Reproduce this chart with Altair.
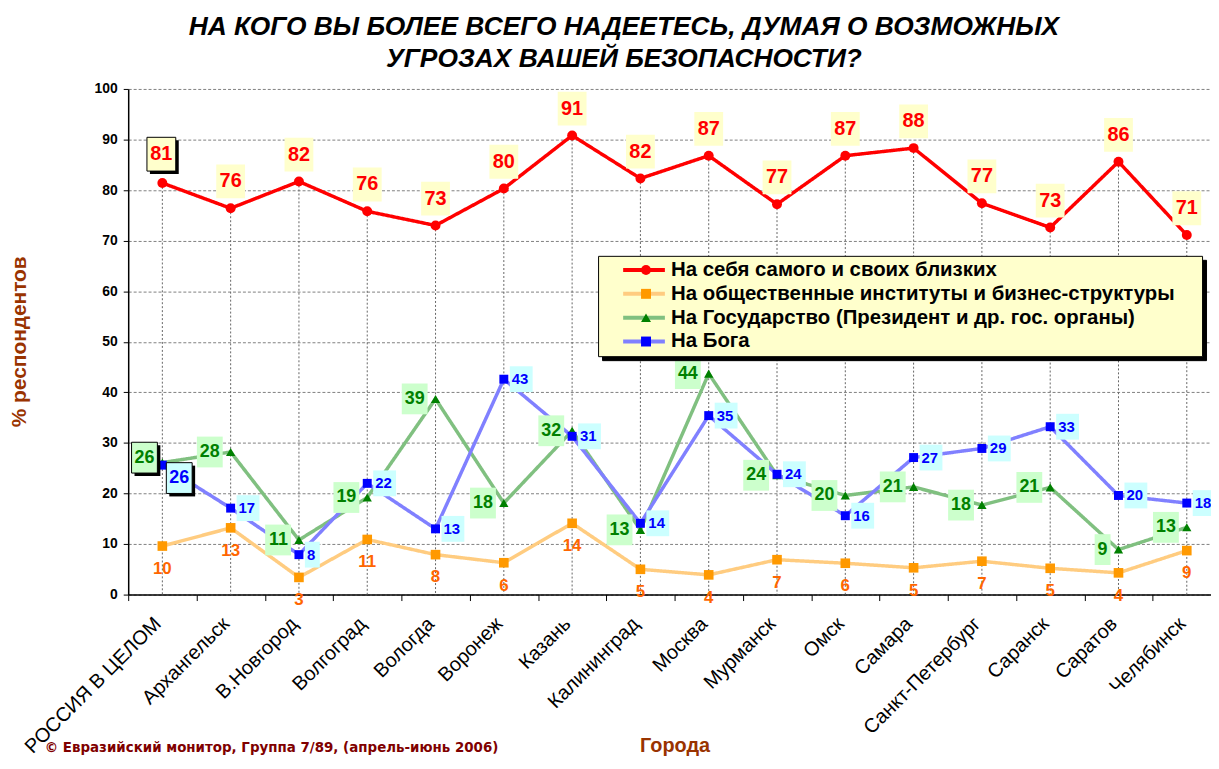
import altair as alt
import pandas as pd

# ---------------- data ----------------
cities = ["РОССИЯ В ЦЕЛОМ", "Архангельск", "В.Новгород", "Волгоград", "Вологда",
          "Воронеж", "Казань", "Калининград", "Москва", "Мурманск", "Омск",
          "Самара", "Санкт-Петербург", "Саранск", "Саратов", "Челябинск"]

s_self = [81.4, 76.4, 81.7, 75.8, 73.0, 80.3, 90.8, 82.3, 86.8, 77.2, 86.8, 88.3, 77.4, 72.6, 85.6, 71.1]
s_public = [9.6, 13.2, 3.4, 10.9, 7.9, 6.3, 14.1, 5.0, 3.9, 6.9, 6.2, 5.3, 6.6, 5.2, 4.3, 8.7]
s_state = [26.1, 28.2, 10.8, 19.2, 38.7, 18.1, 32.4, 12.8, 43.7, 23.6, 19.6, 21.3, 17.7, 21.2, 8.9, 13.3]
s_god = [25.6, 17.1, 7.9, 22.0, 13.0, 42.6, 31.3, 14.1, 35.4, 23.8, 15.6, 27.1, 28.9, 33.2, 19.6, 18.1]

series_names = ["На себя самого и своих близких",
                "На общественные институты и бизнес-структуры",
                "На Государство (Президент и др. гос. органы)",
                "На Бога"]
series_keys = ["self", "pub", "state", "god"]

title_lines = ["НА КОГО ВЫ БОЛЕЕ ВСЕГО НАДЕЕТЕСЬ, ДУМАЯ О ВОЗМОЖНЫХ",
               "УГРОЗАХ ВАШЕЙ БЕЗОПАСНОСТИ?"]
y_title = "% респондентов"
x_title = "Города"
copyright_text = "© Евразийский монитор, Группа 7/89, (апрель-июнь 2006)"

line_colors = ["#FF0000", "#FFCC80", "#80C080", "#8080FF"]
marker_colors = ["#FF0000", "#FF9900", "#008000", "#0000FF"]
marker_shapes = ["circle", "square", "triangle-up", "square"]
marker_sizes = [100, 81, 150, 64]

rows = []
for key, name, vals in zip(series_keys, series_names, [s_self, s_public, s_state, s_god]):
    for c, v in zip(cities, vals):
        rows.append(dict(city=c, series=name, series_m=name, series_s=name, series_z=name,
                         key=key, v=v, russia=(c == cities[0])))
df = pd.DataFrame(rows)

FONT = "Liberation Sans"
PADSTR = "\u00a0" * 4 + "\u200b"

X = alt.X("city:N", sort=cities,
          scale=alt.Scale(type="band", range=[0, 1100], paddingInner=0, paddingOuter=0),
          axis=alt.Axis(labelAngle=-45, labelAlign="right", labelBaseline="middle",
                        labelFont=FONT, labelFontSize=20, labelColor="black",
                        labelPadding=20, labelLimit=400, labelOffset=-5,
                        tickBand="extent", tickSize=6, tickColor="black",
                        domainColor="black", domainWidth=1.5, grid=False,
                        titleFont=FONT, titleFontSize=20, titleFontWeight="bold",
                        titleColor="#993300", titleX=550, titleY=158,
                        titleAlign="center", titleBaseline="alphabetic"),
          title=x_title)
Y = alt.Y("v:Q", scale=alt.Scale(domain=[0, 100], nice=False),
          axis=alt.Axis(values=list(range(0, 101, 10)), labelFont=FONT, labelFontSize=14,
                        labelFontWeight="bold", labelColor="black", labelPadding=6,
                        tickSize=5, tickColor="black", domainColor="black", domainWidth=1.5,
                        grid=True, gridColor="#808080", gridDash=[3, 2], gridWidth=1,
                        titleFont=FONT, titleFontSize=21, titleFontWeight="bold",
                        titleColor="#993300", titleAngle=-90, titleX=-109, titleY=254,
                        titleAlign="center", titleBaseline="middle"),
          title=y_title)

base = alt.Chart(df)

common_leg = dict(title=None, orient="none", direction="vertical", padding=4,
                  symbolSize=100,
                  labelFont=FONT, labelFontSize=20.5, labelFontWeight="bold",
                  labelLimit=900, rowPadding=3,
                  labelExpr="datum.label + '" + PADSTR + "'")

# background + line samples
legendA = alt.Legend(legendX=473, legendY=168, fillColor="#FFFFCC", strokeColor="black",
                     symbolType="M-4.2,0L4.2,0", symbolStrokeWidth=4,
                     symbolOffset=32, labelOffset=17,
                     symbolFillColor="transparent", labelColor="black", zindex=2,
                     **common_leg)
# markers on top
legendB = alt.Legend(legendX=473, legendY=168, symbolStrokeWidth=0,
                     symbolOffset=34, labelOffset=17, symbolOpacity=1,
                     labelColor="transparent", zindex=5, **common_leg)
# shadow underneath
legendC = alt.Legend(legendX=477, legendY=172, fillColor="black", strokeColor="black",
                     symbolType="M-4.2,0L4.2,0", symbolStrokeWidth=4, symbolOpacity=0,
                     symbolOffset=32, labelOffset=17,
                     labelColor="transparent", zindex=1, **common_leg)

drops = base.transform_filter("datum.key == 'self'").mark_rule(
    color="#666666", strokeDash=[2, 2], strokeWidth=1
).encode(x=X, y=Y, y2=alt.datum(0))

lines = base.mark_line(strokeWidth=3.5).encode(
    x=X, y=Y,
    color=alt.Color("series:N", sort="descending",
                    scale=alt.Scale(range=line_colors), legend=legendA),
    strokeDash=alt.StrokeDash("series_s:N", sort="descending",
                              scale=alt.Scale(range=[[1, 0]] * 4), legend=legendC),
)

points = base.mark_point(filled=True, opacity=1).encode(
    x=X, y=Y,
    fill=alt.Fill("series_m:N", sort="descending",
                  scale=alt.Scale(range=marker_colors), legend=legendB),
    shape=alt.Shape("series_m:N", sort="descending",
                    scale=alt.Scale(range=marker_shapes), legend=legendB),
    size=alt.Size("series_z:N", sort="descending",
                  scale=alt.Scale(range=marker_sizes), legend=None),
)


def box(flt, w, h, dx, dy, fill, stroke=None):
    r = w / h
    path = f"M{-r:.4f},-1L{r:.4f},-1L{r:.4f},1L{-r:.4f},1Z"
    props = dict(shape=path, filled=True, fill=fill, size=h * h,
                 xOffset=dx, yOffset=dy, opacity=1)
    if stroke:
        props.update(stroke=stroke, strokeWidth=1)
    return base.transform_filter(flt).mark_point(**props).encode(x=X, y=Y)


def label(flt, dx, dy, align, size, color):
    return base.transform_filter(flt).transform_calculate(
        lab="format(datum.v, '.0f')"
    ).mark_text(dx=dx, dy=dy, align=align, baseline="middle", fontSize=size,
                fontWeight="bold", font=FONT, color=color).encode(x=X, y=Y, text="lab:N")


def shadow_box(flt, w, h, dx, dy, fill):
    return [box(flt, w, h, dx + 3, dy + 3, "black"), box(flt, w, h, dx, dy, fill, "black")]


RED = "datum.key == 'self'"
PUB = "datum.key == 'pub'"
STA = "datum.key == 'state'"
GOD = "datum.key == 'god'"
NR = " && !datum.russia"
RU = " && datum.russia"

layers = [drops, lines, points]

# red (above)
layers += [box(RED + NR, 29, 34, 0, -27, "#FFFFCC"),
           label(RED + NR, 0, -27, "center", 20, "#FF0000")]
layers += shadow_box(RED + RU, 29, 34, -1, -29, "#FFFFCC")
layers += [label(RED + RU, -1, -29, "center", 20, "#FF0000")]

# orange (below, no box)
layers += [label(PUB, 0, 23, "center", 17, "#FF6600")]

# green (left)
layers += [box(STA + NR + " && datum.v >= 9.5", 26, 31, -21, 0, "#CCFFCC"),
           box(STA + NR + " && datum.v < 9.5", 16, 31, -16, 0, "#CCFFCC"),
           label(STA + NR, -11, 0, "right", 18, "#008000")]
layers += shadow_box(STA + RU, 26, 31, -18, -5, "#CCFFCC")
layers += [label(STA + RU, -18, -5, "center", 18, "#008000")]

# blue (right)
layers += [box(GOD + NR + " && datum.v >= 9.5", 23, 26, 17.5, 0, "#CCFFFF"),
           box(GOD + NR + " && datum.v < 9.5", 15, 26, 13.5, 0, "#CCFFFF"),
           label(GOD + NR, 8, 0, "left", 15, "#0000FF")]
layers += shadow_box(GOD + RU, 26, 31, 17, 13, "#CCFFFF")
layers += [label(GOD + RU, 17, 13, "center", 18, "#0000FF")]

copyright_layer = alt.Chart(pd.DataFrame({"t": [copyright_text]})).mark_text(
    align="left", baseline="alphabetic", font="DejaVu Sans", fontSize=13.5,
    fontWeight="bold", color="#800000"
).encode(x=alt.value(-84), y=alt.value(667), text="t:N")
layers.append(copyright_layer)

chart = alt.layer(*layers).properties(
    width=1090, height=509,
    title=alt.TitleParams(text=title_lines, font=FONT, fontSize=26.5, fontStyle="italic",
                          fontWeight="bold", color="black", anchor="middle",
                          dx=-46, offset=10, lineHeight=32),
    autosize=alt.AutoSizeParams(type="none"),
    padding={"left": 121, "top": 79, "right": 0, "bottom": 161},
).configure_view(stroke="transparent")

chart.save("out.html", embed_options={"renderer": "svg", "actions": False})
